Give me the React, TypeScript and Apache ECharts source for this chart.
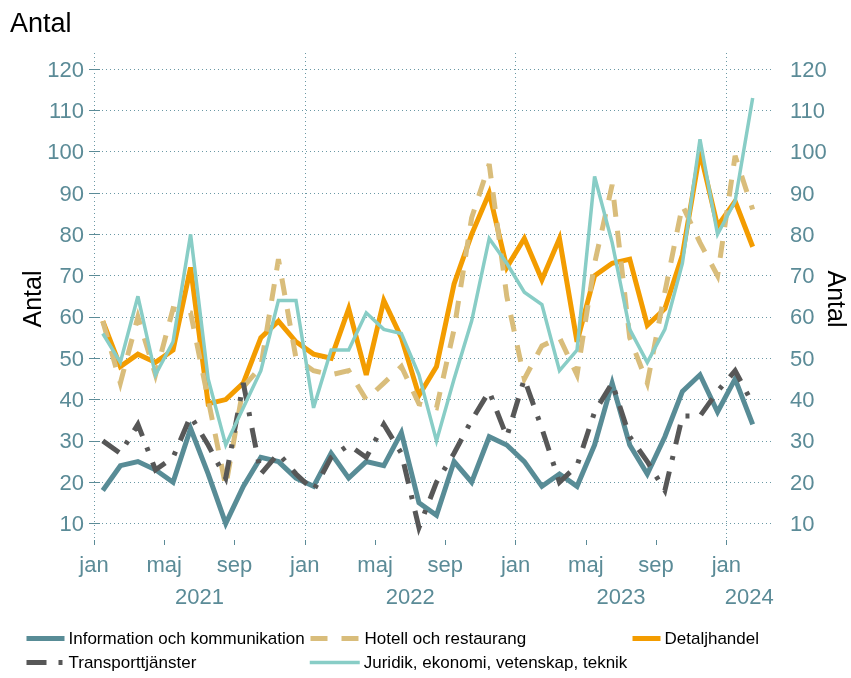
import { useEffect, useRef } from 'react';
import * as echarts from 'echarts';

const monthNames = ['jan', 'feb', 'mar', 'apr', 'maj', 'jun', 'jul', 'aug', 'sep', 'okt', 'nov', 'dec'];
const years = ['2021', '2022', '2023', '2024'];
const yTicks = [10, 20, 30, 40, 50, 60, 70, 80, 90, 100, 110, 120];

const info = [18, 24, 25, 23, 20, 33, 22, 10, 19, 26, 25, 21, 19, 27, 21, 25, 24, 32, 15, 12, 25, 20, 31, 29, 25, 19, 22, 19, 29, 44, 29, 22, 31, 42, 46, 37, 45, 34];
const hotell = [59, 44, 60, 46, 62, 61, 40, 19, 43, 48, 74, 50, 47, 46, 47, 40, 44, 48, 39, 38, 57, 84, 97, 65, 45, 53, 55, 46, 73, 92, 55, 44, 66, 87, 78, 70, 99, 86];
const detalj = [59, 48, 51, 49, 52, 72, 39, 40, 44, 55, 59, 54, 51, 50, 62, 46, 64, 55, 41, 48, 68, 80, 90, 72, 79, 69, 79, 54, 70, 73, 74, 58, 62, 75, 100, 82, 88, 77];
const transport = [30, 27, 34, 23, 26, 36, 29, 21, 44, 22, 27, 22, 18, 26, 29, 26, 34, 27, 9, 20, 27, 35, 42, 31, 45, 33, 20, 24, 37, 44, 31, 25, 18, 36, 36, 42, 47, 39];
const juridik = [56, 49, 65, 46, 54, 80, 45, 29, 38, 47, 64, 64, 38, 52, 52, 61, 57, 56, 46, 30, 45, 59, 79, 73, 66, 63, 47, 52, 94, 78, 57, 49, 57, 73, 103, 80, 88, 113];

const FONT = "'Liberation Sans', Arial, sans-serif";
const AXIS_COLOR = '#5b8b97';
const GRID_COLOR = '#6b99a5';

export default function App() {
  const ref = useRef<HTMLDivElement>(null);
  useEffect(() => {
    const chart = echarts.init(ref.current!, null, { renderer: 'svg' });
    const xMax = 38.6;
    const monthTicks: number[] = [];
    for (let m = 0; m <= info.length - 1; m += 4) monthTicks.push(m);
    const yearStarts = years.map((_, k) => 12 * k);
    const yearCenters = years.map((_, k) => (12 * k + Math.min(12 * k + 12, xMax)) / 2);
    const toPts = (arr: number[]) => arr.map((v, i) => [i + 0.5, v]);
    const labelStyle = { fontSize: 22, color: AXIS_COLOR, fontFamily: FONT };
    const xCommon = { type: 'value', min: 0, max: xMax, gridIndex: 0, position: 'bottom' };
    const yCommon = { type: 'value', min: 4.8, max: 123.9 };
    const legendCommon = {
      itemWidth: 38,
      itemHeight: 14,
      itemGap: 4,
      padding: 0,
      textStyle: { fontSize: 17, color: '#000', fontFamily: FONT, padding: [0, 0, 0, -1] },
      itemStyle: { opacity: 0 },
      lineStyle: { width: 'inherit' },
      selectedMode: false,
    };
    chart.setOption({
      animation: false,
      title: {
        text: 'Antal',
        left: 10,
        top: 9,
        padding: 0,
        textStyle: { fontSize: 27, fontWeight: 'normal', color: '#000', fontFamily: FONT },
      },
      grid: { left: 94, top: 53, width: 678, height: 492, outerBoundsMode: 'none', containLabel: false },
      xAxis: [
        {
          ...xCommon,
          axisLine: { show: false },
          axisTick: { show: true, inside: true, length: 5, customValues: monthTicks, lineStyle: { color: AXIS_COLOR, width: 1 } },
          axisLabel: { customValues: monthTicks, formatter: (v: number) => monthNames[Math.round(v) % 12], margin: 8, ...labelStyle },
          splitLine: { show: false },
        },
        {
          ...xCommon,
          offset: 32,
          axisLine: { show: false },
          axisTick: { show: false },
          axisLabel: { customValues: yearCenters, formatter: (v: number) => years[Math.floor(v / 12)], margin: 8, ...labelStyle },
          splitLine: { show: false },
        },
        {
          ...xCommon,
          axisLine: { show: false },
          axisTick: { show: false, customValues: yearStarts },
          axisLabel: { show: false },
          splitLine: { show: true, lineStyle: { type: [1, 3], color: GRID_COLOR, width: 1 } },
        },
      ],
      yAxis: [
        {
          ...yCommon,
          position: 'left',
          axisLine: { show: false },
          axisTick: { show: true, length: 5, customValues: yTicks, lineStyle: { color: AXIS_COLOR } },
          axisLabel: { customValues: yTicks, margin: 10, ...labelStyle },
          splitLine: { show: true, lineStyle: { type: [1, 3], color: GRID_COLOR, width: 1 } },
          name: 'Antal',
          nameLocation: 'middle',
          nameGap: 50,
          nameRotate: 90,
          nameMoveOverlap: false,
          nameTextStyle: { fontSize: 25, color: '#000', fontFamily: FONT },
        },
        {
          ...yCommon,
          position: 'right',
          axisLine: { show: false },
          axisTick: { show: true, length: 6, customValues: yTicks, lineStyle: { color: AXIS_COLOR } },
          axisLabel: { customValues: yTicks, margin: 18, ...labelStyle },
          splitLine: { show: false },
          name: 'Antal',
          nameLocation: 'middle',
          nameGap: 52,
          nameRotate: -90,
          nameMoveOverlap: false,
          nameTextStyle: { fontSize: 25, color: '#000', fontFamily: FONT },
        },
      ],
      legend: [
        { ...legendCommon, data: ['Information och kommunikation'], left: 24, top: 630 },
        { ...legendCommon, itemWidth: 50, data: ['Hotell och restaurang'], left: 308, top: 630 },
        { ...legendCommon, itemWidth: 28, data: ['Detaljhandel'], left: 630, top: 630 },
        { ...legendCommon, data: ['Transporttjänster'], left: 24, top: 654 },
        { ...legendCommon, itemWidth: 50, data: ['Juridik, ekonomi, vetenskap, teknik'], left: 308, top: 654 },
      ],
      series: [
        {
          name: 'Information och kommunikation', type: 'line', data: toPts(info), symbol: 'none', z: 2,
          lineStyle: { color: '#588c96', width: 5, join: 'miter' }, itemStyle: { color: '#588c96' },
        },
        {
          name: 'Detaljhandel', type: 'line', data: toPts(detalj), symbol: 'none', z: 3,
          lineStyle: { color: '#f39c00', width: 5, join: 'miter' }, itemStyle: { color: '#f39c00' },
        },
        {
          name: 'Hotell och restaurang', type: 'line', data: toPts(hotell), symbol: 'none', z: 4,
          lineStyle: { color: '#d9bd7b', width: 5, type: [17, 14], cap: 'butt', join: 'miter' }, itemStyle: { color: '#d9bd7b' },
        },
        {
          name: 'Transporttjänster', type: 'line', data: toPts(transport), symbol: 'none', z: 5,
          lineStyle: { color: '#575757', width: 5, type: [20, 12, 4, 12], cap: 'butt', join: 'miter' }, itemStyle: { color: '#575757' },
        },
        {
          name: 'Juridik, ekonomi, vetenskap, teknik', type: 'line', data: toPts(juridik), symbol: 'none', z: 6,
          lineStyle: { color: '#88cdc6', width: 3.5, join: 'miter' }, itemStyle: { color: '#88cdc6' },
        },
      ],
    });
    return () => chart.dispose();
  }, []);
  return <div ref={ref} style={{ position: 'fixed', left: 0, top: 0, width: 851, height: 678 }} />;
}
